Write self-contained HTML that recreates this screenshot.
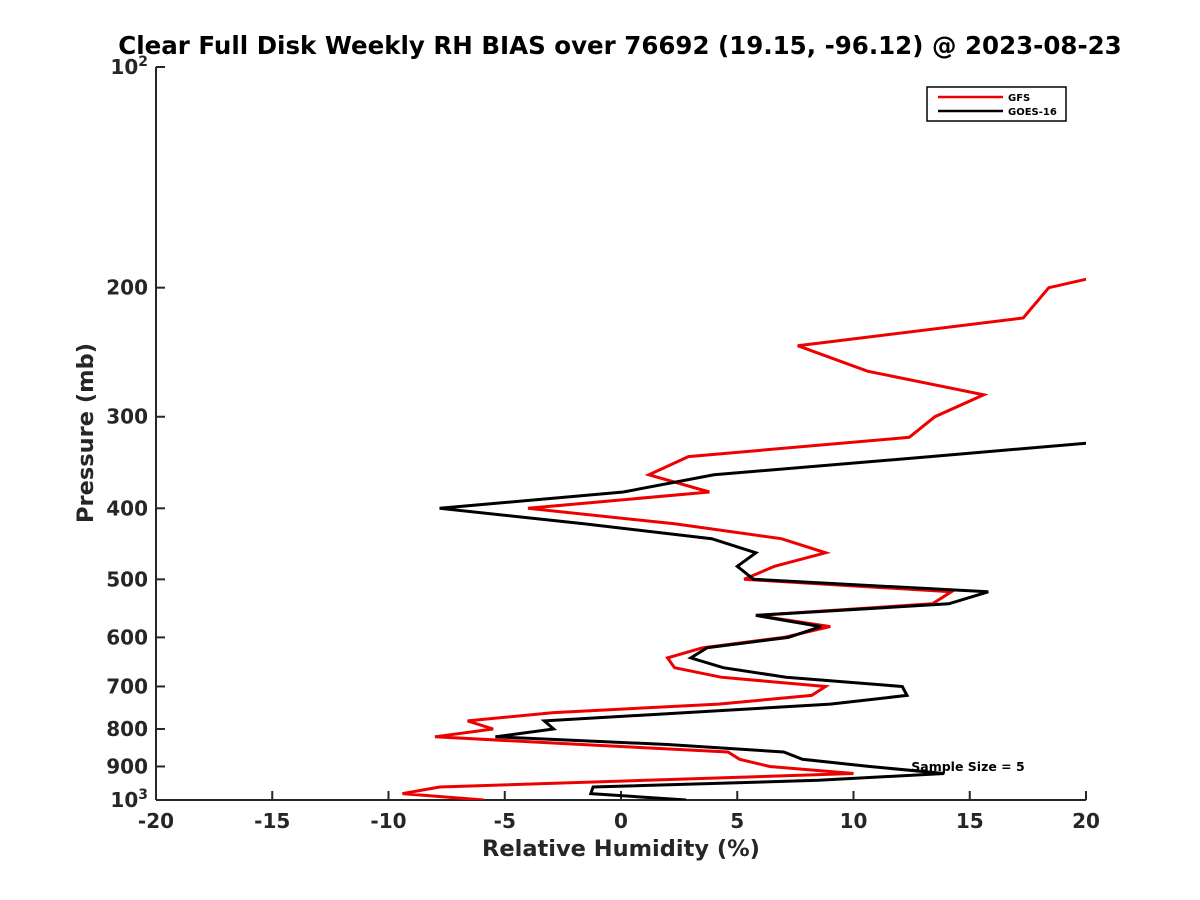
<!DOCTYPE html>
<html><head><meta charset="utf-8"><style>
body{margin:0;background:#fff;}
svg{display:block;font-family:"DejaVu Sans","Liberation Sans",sans-serif;}
</style></head><body>
<svg id="chart" width="1200" height="900">
<defs><clipPath id="plotclip"><rect x="156" y="67" width="930" height="733"/></clipPath></defs>
<rect width="1200" height="900" fill="#fff"/>
<text x="620" y="54" text-anchor="middle" font-size="24.5" font-weight="bold" fill="#000">Clear Full Disk Weekly RH BIAS over 76692 (19.15, -96.12) @ 2023-08-23</text>
<g id="axes"></g>
<g id="series" clip-path="url(#plotclip)"></g>
<text x="968" y="771" text-anchor="middle" font-size="12.5" font-weight="bold" fill="#000">Sample Size = 5</text>
<g>
<rect x="927" y="87" width="139" height="34" fill="#fff" stroke="#000" stroke-width="1.5"/>
<line x1="938" y1="97" x2="1003" y2="97" stroke="#e00" stroke-width="2.5"/>
<text x="1008" y="101" font-size="10" font-weight="bold">GFS</text>
<line x1="938" y1="111" x2="1003" y2="111" stroke="#000" stroke-width="2.5"/>
<text x="1008" y="115" font-size="10" font-weight="bold">GOES-16</text>
</g>
</svg>
<script>
const gfsLevels=[190,200,220,240,260,280,300,320,340,360,380,400,420,440,460,480,500,520,540,560,580,600,620,640,660,680,700,720,740,760,780,800,820,840,860,880,900,920,940,960,980,1000];
const gfsValues=[21.5,18.4,17.3,7.6,10.6,15.6,13.5,12.4,2.9,1.2,3.8,-4.0,2.3,6.9,8.8,6.6,5.3,14.2,13.4,5.8,9.0,7.0,3.5,2.0,2.3,4.3,8.8,8.2,4.2,-2.9,-6.6,-5.5,-8.0,-1.7,4.6,5.1,6.4,10.0,1.1,-7.8,-9.4,-5.9];
const goesLevels=[320,340,360,380,400,420,440,460,480,500,520,540,560,580,600,620,640,660,680,700,720,740,760,780,800,820,840,860,880,900,920,940,960,980,1000];
const goesValues=[23.0,13.3,4.0,0.1,-7.8,-1.6,3.9,5.8,5.0,5.7,15.8,14.1,5.8,8.6,7.2,3.7,3.0,4.4,7.1,12.1,12.3,9.0,2.8,-3.3,-2.9,-5.4,2.0,7.0,7.8,10.7,13.9,8.5,-1.2,-1.3,2.8];
const xTicks=[-20,-15,-10,-5,0,5,10,15,20];
const yTicks=[200,300,400,500,600,700,800,900];
const NS='http://www.w3.org/2000/svg';
const X0=156,X1=1086,Y0=67,Y1=800;
function xs(v){return X0+(v+20)/40*(X1-X0);}
function ys(p){return Y0+Math.log10(p/100)*(Y1-Y0);}
function mk(tag,attrs,parent){const e=document.createElementNS(NS,tag);for(const k in attrs)e.setAttribute(k,attrs[k]);parent.appendChild(e);return e;}
const axes=document.getElementById('axes');
let a=mk('line',{x1:X0,y1:Y0,x2:X0,y2:Y1,stroke:'#262626','stroke-width':2},axes);


a=mk('line',{x1:X0,y1:Y1,x2:X1,y2:Y1,stroke:'#262626','stroke-width':2},axes);


xTicks.forEach(v=>{
  const t=mk('line',{x1:xs(v),y1:Y1,x2:xs(v),y2:Y1-9,stroke:'#262626','stroke-width':2},axes);
  
  
  const l=mk('text',{x:xs(v),y:828,'text-anchor':'middle','font-size':20,'font-weight':'bold',fill:'#262626'},axes);
  l.textContent=String(v);
  
  
});
[100].concat(yTicks,[1000]).forEach(p=>{
  const t=mk('line',{x1:X0,y1:ys(p),x2:X0+9,y2:ys(p),stroke:'#262626','stroke-width':2},axes);
  
  
});
yTicks.forEach(p=>{
  const l=mk('text',{x:148,y:ys(p)+7,'text-anchor':'end','font-size':20,'font-weight':'bold',fill:'#262626'},axes);
  l.textContent=String(p);
  
  
});
[[100,'2'],[1000,'3']].forEach(([p,e])=>{
  const l=mk('text',{x:148,y:ys(p)+7,'text-anchor':'end','font-size':20,'font-weight':'bold',fill:'#262626'},axes);
  l.innerHTML='10<tspan dy="-8" font-size="14">'+e+'</tspan>';
  
  
});
let xl=mk('text',{x:621,y:856,'text-anchor':'middle','font-size':22.5,'font-weight':'bold',fill:'#262626'},axes);
xl.textContent='Relative Humidity (%)';


let yl=mk('text',{x:93,y:433,'text-anchor':'middle','font-size':22.5,'font-weight':'bold',fill:'#262626',transform:'rotate(-90 93 433)'},axes);
yl.textContent='Pressure (mb)';


const ser=document.getElementById('series');
function line(levels,vals,color,name){
  const pts=levels.map((p,i)=>xs(vals[i]).toFixed(1)+','+ys(p).toFixed(1)).join(' ');
  const e=mk('polyline',{points:pts,fill:'none',stroke:color,'stroke-width':3,'stroke-linejoin':'miter'},ser);
  
  
}
line(gfsLevels,gfsValues,'#e00','gfs-line');
line(goesLevels,goesValues,'#000','goes16-line');
</script>
</body></html>
